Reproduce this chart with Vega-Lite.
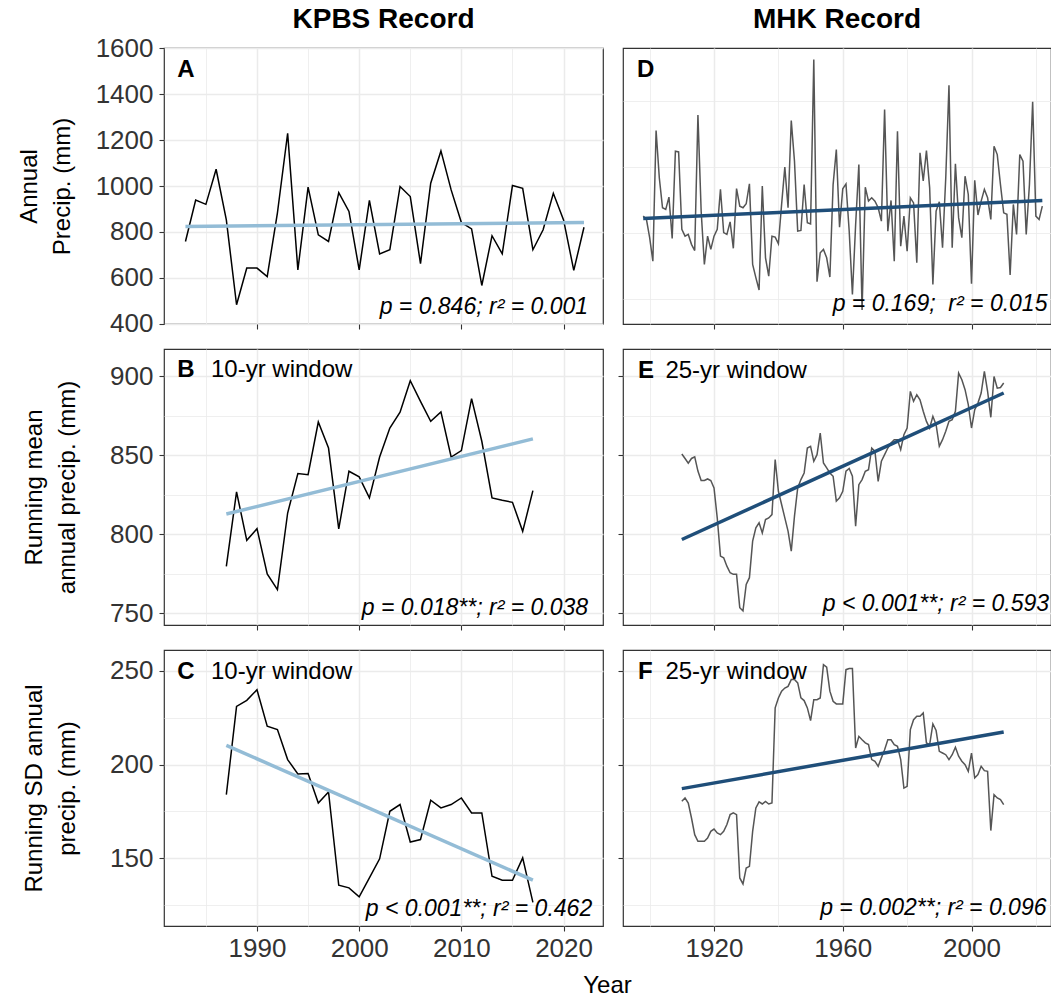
{
  "$schema": "https://vega.github.io/schema/vega-lite/v6.json",
  "padding": {"left": 16, "right": 2, "top": 5, "bottom": 3},
  "background": "white",
  "config": {
    "font": "Liberation Sans",
    "view": {"stroke": "#333333", "strokeWidth": 1.2},
    "axis": {"domain": false, "grid": true, "gridColor": "#ebebeb", "tickColor": "#333333", "tickSize": 5, "tickWidth": 1.1,
      "labelFont": "Liberation Sans", "labelFontSize": 26, "labelColor": "#333333", "labelFlush": false, "labelOverlap": false,
      "titleFont": "Liberation Sans", "titleFontSize": 24, "titleFontWeight": "normal", "titleColor": "#000000", "titleLineHeight": 33},
    "title": {"font": "Liberation Sans", "fontSize": 28, "fontWeight": "bold", "color": "#000000", "anchor": "middle"}
  },
  "datasets": {
    "kpbs_annual": [
      {"year":1983,"value":758},{"year":1984,"value":939},{"year":1985,"value":920},{"year":1986,"value":1073},{"year":1987,"value":852},
      {"year":1988,"value":482},{"year":1989,"value":642},{"year":1990,"value":642},{"year":1991,"value":605},{"year":1992,"value":883},
      {"year":1993,"value":1230},{"year":1994,"value":634},{"year":1995,"value":995},{"year":1996,"value":787},{"year":1997,"value":758},
      {"year":1998,"value":971},{"year":1999,"value":889},{"year":2000,"value":634},{"year":2001,"value":937},{"year":2002,"value":704},
      {"year":2003,"value":722},{"year":2004,"value":998},{"year":2005,"value":954},{"year":2006,"value":661},{"year":2007,"value":1012},
      {"year":2008,"value":1153},{"year":2009,"value":983},{"year":2010,"value":841},{"year":2011,"value":813},{"year":2012,"value":566},
      {"year":2013,"value":783},{"year":2014,"value":704},{"year":2015,"value":1002},{"year":2016,"value":990},{"year":2017,"value":722},
      {"year":2018,"value":809},{"year":2019,"value":968},{"year":2020,"value":852},{"year":2021,"value":632},{"year":2022,"value":820}
    ],
    "kpbs_annual_trend": [{"year":1983,"value":823},{"year":2022,"value":841}],
    "kpbs_mean": [
      {"year":1987,"value":779.6},{"year":1988,"value":826.8},{"year":1989,"value":796.1},{"year":1990,"value":803.5},{"year":1991,"value":774.8},
      {"year":1992,"value":764.8},{"year":1993,"value":813.4},{"year":1994,"value":838.4},{"year":1995,"value":837.7},{"year":1996,"value":871.1},
      {"year":1997,"value":854.6},{"year":1998,"value":803.3},{"year":1999,"value":839.9},{"year":2000,"value":836.3},{"year":2001,"value":823.0},
      {"year":2002,"value":848.9},{"year":2003,"value":867.3},{"year":2004,"value":877.3},{"year":2005,"value":897.3},{"year":2006,"value":884.2},
      {"year":2007,"value":871.6},{"year":2008,"value":877.5},{"year":2009,"value":848.9},{"year":2010,"value":853.0},{"year":2011,"value":885.9},
      {"year":2012,"value":858.9},{"year":2013,"value":823.0},{"year":2014,"value":821.5},{"year":2015,"value":820.2},{"year":2016,"value":801.8},
      {"year":2017,"value":827.6}
    ],
    "kpbs_mean_trend": [{"year":1987,"value":812.8},{"year":2017,"value":860.4}],
    "kpbs_sd": [
      {"year":1987,"value":184.0},{"year":1988,"value":231.1},{"year":1989,"value":234.3},{"year":1990,"value":240.0},{"year":1991,"value":220.5},
      {"year":1992,"value":218.7},{"year":1993,"value":202.7},{"year":1994,"value":195.0},{"year":1995,"value":195.2},{"year":1996,"value":179.5},
      {"year":1997,"value":185.4},{"year":1998,"value":135.6},{"year":1999,"value":134.2},{"year":2000,"value":129.4},{"year":2001,"value":139.5},
      {"year":2002,"value":149.7},{"year":2003,"value":175.1},{"year":2004,"value":178.7},{"year":2005,"value":158.7},{"year":2006,"value":160.0},
      {"year":2007,"value":181.0},{"year":2008,"value":176.9},{"year":2009,"value":178.7},{"year":2010,"value":182.2},{"year":2011,"value":174.2},
      {"year":2012,"value":174.2},{"year":2013,"value":140.4},{"year":2014,"value":138.3},{"year":2015,"value":138.3},{"year":2016,"value":150.2},
      {"year":2017,"value":126.5}
    ],
    "kpbs_sd_trend": [{"year":1987,"value":210.3},{"year":2017,"value":138.3}],
    "mhk_annual": [
      {"year":1898,"value":826},{"year":1899,"value":811},{"year":1900,"value":728},{"year":1901,"value":622},{"year":1902,"value":1214},
      {"year":1903,"value":1000},{"year":1904,"value":864},{"year":1905,"value":856},{"year":1906,"value":912},{"year":1907,"value":725},
      {"year":1908,"value":1120},{"year":1909,"value":1117},{"year":1910,"value":766},{"year":1911,"value":735},{"year":1912,"value":743},
      {"year":1913,"value":698},{"year":1914,"value":670},{"year":1915,"value":1284},{"year":1916,"value":849},{"year":1917,"value":607},
      {"year":1918,"value":735},{"year":1919,"value":675},{"year":1920,"value":735},{"year":1921,"value":766},{"year":1922,"value":947},
      {"year":1923,"value":751},{"year":1924,"value":743},{"year":1925,"value":800},{"year":1926,"value":680},{"year":1927,"value":951},
      {"year":1928,"value":871},{"year":1929,"value":864},{"year":1930,"value":882},{"year":1931,"value":972},{"year":1932,"value":607},
      {"year":1933,"value":547},{"year":1934,"value":491},{"year":1935,"value":962},{"year":1936,"value":637},{"year":1937,"value":554},
      {"year":1938,"value":735},{"year":1939,"value":731},{"year":1940,"value":701},{"year":1941,"value":879},{"year":1942,"value":1048},
      {"year":1943,"value":864},{"year":1944,"value":1259},{"year":1945,"value":1075},{"year":1946,"value":758},{"year":1947,"value":761},
      {"year":1948,"value":969},{"year":1949,"value":796},{"year":1950,"value":791},{"year":1951,"value":1536},{"year":1952,"value":529},
      {"year":1953,"value":660},{"year":1954,"value":675},{"year":1955,"value":637},{"year":1956,"value":550},{"year":1957,"value":969},
      {"year":1958,"value":1128},{"year":1959,"value":776},{"year":1960,"value":950},{"year":1961,"value":972},{"year":1962,"value":758},
      {"year":1963,"value":471},{"year":1964,"value":788},{"year":1965,"value":1060},{"year":1966,"value":400},{"year":1967,"value":957},
      {"year":1968,"value":894},{"year":1969,"value":909},{"year":1970,"value":894},{"year":1971,"value":864},{"year":1972,"value":803},
      {"year":1973,"value":1309},{"year":1974,"value":758},{"year":1975,"value":897},{"year":1976,"value":622},{"year":1977,"value":1211},
      {"year":1978,"value":690},{"year":1979,"value":826},{"year":1980,"value":667},{"year":1981,"value":909},{"year":1982,"value":886},
      {"year":1983,"value":615},{"year":1984,"value":1113},{"year":1985,"value":985},{"year":1986,"value":1123},{"year":1987,"value":954},
      {"year":1988,"value":516},{"year":1989,"value":849},{"year":1990,"value":891},{"year":1991,"value":683},{"year":1992,"value":1000},
      {"year":1993,"value":1419},{"year":1994,"value":683},{"year":1995,"value":1063},{"year":1996,"value":818},{"year":1997,"value":728},
      {"year":1998,"value":1007},{"year":1999,"value":924},{"year":2000,"value":519},{"year":2001,"value":988},{"year":2002,"value":831},
      {"year":2003,"value":894},{"year":2004,"value":947},{"year":2005,"value":909},{"year":2006,"value":811},{"year":2007,"value":1143},
      {"year":2008,"value":1105},{"year":2009,"value":969},{"year":2010,"value":841},{"year":2011,"value":834},{"year":2012,"value":559},
      {"year":2013,"value":879},{"year":2014,"value":743},{"year":2015,"value":1105},{"year":2016,"value":1075},{"year":2017,"value":743},
      {"year":2018,"value":969},{"year":2019,"value":1344},{"year":2020,"value":826},{"year":2021,"value":811},{"year":2022,"value":871}
    ],
    "mhk_annual_trend": [{"year":1898,"value":815},{"year":2022,"value":897}],
    "mhk_mean": [
      {"year":1910,"value":850.8},{"year":1911,"value":848},{"year":1912,"value":845},{"year":1913,"value":848},{"year":1914,"value":849},
      {"year":1915,"value":840},{"year":1916,"value":834},{"year":1917,"value":834},{"year":1918,"value":835},{"year":1919,"value":834},
      {"year":1920,"value":829.3},{"year":1921,"value":810.3},{"year":1922,"value":786.1},{"year":1923,"value":785},{"year":1924,"value":779.7},
      {"year":1925,"value":775.5},{"year":1926,"value":774.5},{"year":1927,"value":774.5},{"year":1928,"value":753.4},{"year":1929,"value":751.3},
      {"year":1930,"value":768.1},{"year":1931,"value":772.4},{"year":1932,"value":795.6},{"year":1933,"value":804},{"year":1934,"value":807.2},
      {"year":1935,"value":800.8},{"year":1936,"value":809.3},{"year":1937,"value":810.3},{"year":1938,"value":812.4},{"year":1939,"value":847.3},
      {"year":1940,"value":827.2},{"year":1941,"value":818.8},{"year":1942,"value":810.3},{"year":1943,"value":801.9},{"year":1944,"value":789.2},
      {"year":1945,"value":811.4},{"year":1946,"value":829.3},{"year":1947,"value":834.6},{"year":1948,"value":838.8},{"year":1949,"value":854.6},
      {"year":1950,"value":855.7},{"year":1951,"value":846.2},{"year":1952,"value":850.4},{"year":1953,"value":864.1},{"year":1954,"value":845.1},
      {"year":1955,"value":842},{"year":1956,"value":838.8},{"year":1957,"value":836.7},{"year":1958,"value":820.9},{"year":1959,"value":823},
      {"year":1960,"value":827.2},{"year":1961,"value":839.9},{"year":1962,"value":841.6},{"year":1963,"value":836.7},{"year":1964,"value":805.1},
      {"year":1965,"value":831.4},{"year":1966,"value":834.6},{"year":1967,"value":839.9},{"year":1968,"value":840.9},{"year":1969,"value":854.6},
      {"year":1970,"value":852.5},{"year":1971,"value":833.5},{"year":1972,"value":846.2},{"year":1973,"value":850.4},{"year":1974,"value":854.6},
      {"year":1975,"value":857.8},{"year":1976,"value":859.9},{"year":1977,"value":859.9},{"year":1978,"value":853.6},{"year":1979,"value":863.1},
      {"year":1980,"value":867.3},{"year":1981,"value":890.5},{"year":1982,"value":884.2},{"year":1983,"value":888.4},{"year":1984,"value":885.2},
      {"year":1985,"value":877.9},{"year":1986,"value":871.5},{"year":1987,"value":867.3},{"year":1988,"value":874.7},{"year":1989,"value":869.4},
      {"year":1990,"value":855.7},{"year":1991,"value":859.9},{"year":1992,"value":865.2},{"year":1993,"value":871.5},{"year":1994,"value":872.6},
      {"year":1995,"value":877.9},{"year":1996,"value":902.1},{"year":1997,"value":897.9},{"year":1998,"value":891.6},{"year":1999,"value":882.1},
      {"year":2000,"value":867.3},{"year":2001,"value":878.9},{"year":2002,"value":883.1},{"year":2003,"value":889.5},{"year":2004,"value":903.2},
      {"year":2005,"value":890.5},{"year":2006,"value":874.1},{"year":2007,"value":900},{"year":2008,"value":892.6},{"year":2009,"value":893},
      {"year":2010,"value":895.8}
    ],
    "mhk_mean_trend": [{"year":1910,"value":796.6},{"year":2010,"value":889.5}],
    "mhk_sd": [
      {"year":1910,"value":180.4},{"year":1911,"value":182.2},{"year":1912,"value":179.5},{"year":1913,"value":171.5},{"year":1914,"value":162.6},
      {"year":1915,"value":159.1},{"year":1916,"value":159.1},{"year":1917,"value":159.1},{"year":1918,"value":160.8},{"year":1919,"value":164.4},
      {"year":1920,"value":165.6},{"year":1921,"value":163.5},{"year":1922,"value":162.6},{"year":1923,"value":164.4},{"year":1924,"value":168},
      {"year":1925,"value":173.3},{"year":1926,"value":174.2},{"year":1927,"value":173.3},{"year":1928,"value":139.5},{"year":1929,"value":136.3},
      {"year":1930,"value":144.8},{"year":1931,"value":145.7},{"year":1932,"value":164.4},{"year":1933,"value":176.9},{"year":1934,"value":180.1},
      {"year":1935,"value":179},{"year":1936,"value":180.4},{"year":1937,"value":179},{"year":1938,"value":179.5},{"year":1939,"value":230.3},
      {"year":1940,"value":235.6},{"year":1941,"value":239.2},{"year":1942,"value":240.9},{"year":1943,"value":241.8},{"year":1944,"value":245.4},
      {"year":1945,"value":245.4},{"year":1946,"value":243.6},{"year":1947,"value":235.6},{"year":1948,"value":234.2},{"year":1949,"value":230.3},
      {"year":1950,"value":223.5},{"year":1951,"value":234.7},{"year":1952,"value":234.7},{"year":1953,"value":235.6},{"year":1954,"value":253.4},
      {"year":1955,"value":252},{"year":1956,"value":239.2},{"year":1957,"value":233.8},{"year":1958,"value":232.4},{"year":1959,"value":232.4},
      {"year":1960,"value":232.4},{"year":1961,"value":250.7},{"year":1962,"value":251.3},{"year":1963,"value":251.3},{"year":1964,"value":208.9},
      {"year":1965,"value":215.1},{"year":1966,"value":213.3},{"year":1967,"value":211.6},{"year":1968,"value":210.7},{"year":1969,"value":202.7},
      {"year":1970,"value":201.8},{"year":1971,"value":199.1},{"year":1972,"value":203.6},{"year":1973,"value":208},{"year":1974,"value":213.3},
      {"year":1975,"value":213.3},{"year":1976,"value":210.7},{"year":1977,"value":209.8},{"year":1978,"value":202.7},{"year":1979,"value":187.5},
      {"year":1980,"value":188.4},{"year":1981,"value":218.7},{"year":1982,"value":224},{"year":1983,"value":225.8},{"year":1984,"value":225.8},
      {"year":1985,"value":227.6},{"year":1986,"value":211.6},{"year":1987,"value":210.7},{"year":1988,"value":221.7},{"year":1989,"value":218.2},
      {"year":1990,"value":207.1},{"year":1991,"value":206.2},{"year":1992,"value":205.3},{"year":1993,"value":202.7},{"year":1994,"value":205.3},
      {"year":1995,"value":209.3},{"year":1996,"value":204.5},{"year":1997,"value":201.8},{"year":1998,"value":200},{"year":1999,"value":196.4},
      {"year":2000,"value":206.2},{"year":2001,"value":192.9},{"year":2002,"value":194.7},{"year":2003,"value":199.1},{"year":2004,"value":196.8},
      {"year":2005,"value":196.4},{"year":2006,"value":164.8},{"year":2007,"value":184},{"year":2008,"value":182.2},{"year":2009,"value":181.3},
      {"year":2010,"value":178.6}
    ],
    "mhk_sd_trend": [{"year":1910,"value":187.2},{"year":2010,"value":217.4}]
  },
  "columns": 2,
  "spacing": {"row": 25, "column": 20},
  "bounds": "flush",
  "resolve": {"scale": {"x": "independent", "y": "independent"}},
  "concat": [
    {
      "width": 439, "height": 276,
      "title": {"text": "KPBS Record", "offset": 1},
      "layer": [
        {"data": {"name": "kpbs_annual"}, "mark": {"type": "line", "color": "#000000", "strokeWidth": 1.5},
         "encoding": {
           "x": {"field": "year", "type": "quantitative", "scale": {"domain": [1980.9, 2023.86], "nice": false, "zero": false},
                 "axis": {"title": null, "values": [1985,1990,1995,2000,2005,2010,2015,2020], "labels": false,
                          "tickOpacity": {"condition": {"test": "datum.value % 10 !== 0", "value": 0}, "value": 1},
                          "gridWidth": {"condition": {"test": "datum.value % 10 !== 0", "value": 0.8}, "value": 1.5}}},
           "y": {"field": "value", "type": "quantitative", "scale": {"domain": [398, 1602], "nice": false, "zero": false},
                 "axis": {"title": ["Annual", "Precip. (mm)"], "titlePadding": 21, "labelPadding": 6,
                          "values": [400,500,600,700,800,900,1000,1100,1200,1300,1400,1500,1600],
                          "labelExpr": "datum.value % 200 === 0 ? datum.label : ''", "format": "d",
                          "tickOpacity": {"condition": {"test": "datum.value % 200 !== 0", "value": 0}, "value": 1},
                          "gridWidth": {"condition": {"test": "datum.value % 200 !== 0", "value": 0.8}, "value": 1.5}}}
         }},
        {"data": {"name": "kpbs_annual_trend"}, "mark": {"type": "line", "color": "#93bcd6", "strokeWidth": 3.5},
         "encoding": {"x": {"field": "year", "type": "quantitative"}, "y": {"field": "value", "type": "quantitative"}}},
        {"data": {"values": [{}]}, "mark": {"type": "text", "text": "A", "fontWeight": "bold", "fontSize": 24, "align": "left", "baseline": "alphabetic", "color": "#000000"},
         "encoding": {"x": {"datum": 1982.2}, "y": {"datum": 1475}}},
        {"data": {"values": [{}]}, "mark": {"type": "text", "text": "p = 0.846; r² = 0.001", "fontStyle": "italic", "fontSize": 23, "align": "right", "baseline": "alphabetic", "color": "#000000"},
         "encoding": {"x": {"datum": 2022.4}, "y": {"datum": 443}}}
      ]
    },
    {
      "width": 428, "height": 276,
      "title": {"text": "MHK Record", "offset": 14},
      "layer": [
        {"data": {"name": "mhk_annual"}, "mark": {"type": "line", "color": "#555555", "strokeWidth": 1.5},
         "encoding": {
           "x": {"field": "year", "type": "quantitative", "scale": {"domain": [1891.72, 2024.7], "nice": false, "zero": false},
                 "axis": {"title": null, "values": [1900,1920,1940,1960,1980,2000,2020], "labels": false,
                          "tickOpacity": {"condition": {"test": "(datum.value - 1920) % 40 !== 0", "value": 0}, "value": 1},
                          "gridWidth": {"condition": {"test": "(datum.value - 1920) % 40 !== 0", "value": 0.8}, "value": 1.5}}},
           "y": {"field": "value", "type": "quantitative", "scale": {"domain": [337, 1588], "nice": false, "zero": false},
                 "axis": {"title": null, "labels": false, "values": [450,600,750,900,1050,1200,1350,1500],
                          "tickOpacity": {"condition": {"test": "datum.value % 300 !== 0", "value": 0}, "value": 1},
                          "gridWidth": {"condition": {"test": "datum.value % 300 !== 0", "value": 0.8}, "value": 1.5}}}
         }},
        {"data": {"name": "mhk_annual_trend"}, "mark": {"type": "line", "color": "#1f4e79", "strokeWidth": 3.5},
         "encoding": {"x": {"field": "year", "type": "quantitative"}, "y": {"field": "value", "type": "quantitative"}}},
        {"data": {"values": [{}]}, "mark": {"type": "text", "text": "D", "fontWeight": "bold", "fontSize": 24, "align": "left", "baseline": "alphabetic", "color": "#000000"},
         "encoding": {"x": {"datum": 1896.1}, "y": {"datum": 1458}}},
        {"data": {"values": [{}]}, "mark": {"type": "text", "text": "p = 0.169;\u00a0 r² = 0.015", "fontStyle": "italic", "fontSize": 23, "align": "right", "baseline": "alphabetic", "color": "#000000"},
         "encoding": {"x": {"datum": 2023.6}, "y": {"datum": 394}}}
      ]
    },
    {
      "width": 439, "height": 276,
      "layer": [
        {"data": {"name": "kpbs_mean"}, "mark": {"type": "line", "color": "#000000", "strokeWidth": 1.5},
         "encoding": {
           "x": {"field": "year", "type": "quantitative", "scale": {"domain": [1980.9, 2023.86], "nice": false, "zero": false},
                 "axis": {"title": null, "values": [1985,1990,1995,2000,2005,2010,2015,2020], "labels": false,
                          "tickOpacity": {"condition": {"test": "datum.value % 10 !== 0", "value": 0}, "value": 1},
                          "gridWidth": {"condition": {"test": "datum.value % 10 !== 0", "value": 0.8}, "value": 1.5}}},
           "y": {"field": "value", "type": "quantitative", "scale": {"domain": [742.4, 917.4], "nice": false, "zero": false},
                 "axis": {"title": ["Running mean", "annual precip. (mm)"], "titlePadding": 30, "labelPadding": 6,
                          "values": [750,775,800,825,850,875,900],
                          "labelExpr": "datum.value % 50 === 0 ? datum.label : ''", "format": "d",
                          "tickOpacity": {"condition": {"test": "datum.value % 50 !== 0", "value": 0}, "value": 1},
                          "gridWidth": {"condition": {"test": "datum.value % 50 !== 0", "value": 0.8}, "value": 1.5}}}
         }},
        {"data": {"name": "kpbs_mean_trend"}, "mark": {"type": "line", "color": "#93bcd6", "strokeWidth": 3.5},
         "encoding": {"x": {"field": "year", "type": "quantitative"}, "y": {"field": "value", "type": "quantitative"}}},
        {"data": {"values": [{}]}, "mark": {"type": "text", "text": "B", "fontWeight": "bold", "fontSize": 24, "align": "left", "baseline": "alphabetic", "color": "#000000"},
         "encoding": {"x": {"datum": 1982.2}, "y": {"datum": 899.6}}},
        {"data": {"values": [{}]}, "mark": {"type": "text", "text": "10-yr window", "fontSize": 24, "align": "left", "baseline": "alphabetic", "color": "#000000"},
         "encoding": {"x": {"datum": 1985.5}, "y": {"datum": 899.6}}},
        {"data": {"values": [{}]}, "mark": {"type": "text", "text": "p = 0.018**; r² = 0.038", "fontStyle": "italic", "fontSize": 23, "align": "right", "baseline": "alphabetic", "color": "#000000"},
         "encoding": {"x": {"datum": 2022.4}, "y": {"datum": 748.9}}}
      ]
    },
    {
      "width": 428, "height": 276,
      "layer": [
        {"data": {"name": "mhk_mean"}, "mark": {"type": "line", "color": "#555555", "strokeWidth": 1.5},
         "encoding": {
           "x": {"field": "year", "type": "quantitative", "scale": {"domain": [1891.72, 2024.7], "nice": false, "zero": false},
                 "axis": {"title": null, "values": [1900,1920,1940,1960,1980,2000,2020], "labels": false,
                          "tickOpacity": {"condition": {"test": "(datum.value - 1920) % 40 !== 0", "value": 0}, "value": 1},
                          "gridWidth": {"condition": {"test": "(datum.value - 1920) % 40 !== 0", "value": 0.8}, "value": 1.5}}},
           "y": {"field": "value", "type": "quantitative", "scale": {"domain": [742.4, 917.4], "nice": false, "zero": false},
                 "axis": {"title": null, "labels": false, "values": [750,775,800,825,850,875,900],
                          "tickOpacity": {"condition": {"test": "datum.value % 50 !== 0", "value": 0}, "value": 1},
                          "gridWidth": {"condition": {"test": "datum.value % 50 !== 0", "value": 0.8}, "value": 1.5}}}
         }},
        {"data": {"name": "mhk_mean_trend"}, "mark": {"type": "line", "color": "#1f4e79", "strokeWidth": 3.5},
         "encoding": {"x": {"field": "year", "type": "quantitative"}, "y": {"field": "value", "type": "quantitative"}}},
        {"data": {"values": [{}]}, "mark": {"type": "text", "text": "E", "fontWeight": "bold", "fontSize": 24, "align": "left", "baseline": "alphabetic", "color": "#000000"},
         "encoding": {"x": {"datum": 1896.4}, "y": {"datum": 899}}},
        {"data": {"values": [{}]}, "mark": {"type": "text", "text": "25-yr window", "fontSize": 24, "align": "left", "baseline": "alphabetic", "color": "#000000"},
         "encoding": {"x": {"datum": 1904.9}, "y": {"datum": 899}}},
        {"data": {"values": [{}]}, "mark": {"type": "text", "text": "p < 0.001**; r² = 0.593", "fontStyle": "italic", "fontSize": 23, "align": "right", "baseline": "alphabetic", "color": "#000000"},
         "encoding": {"x": {"datum": 2024.1}, "y": {"datum": 751}}}
      ]
    },
    {
      "width": 439, "height": 276,
      "layer": [
        {"data": {"name": "kpbs_sd"}, "mark": {"type": "line", "color": "#000000", "strokeWidth": 1.5},
         "encoding": {
           "x": {"field": "year", "type": "quantitative", "scale": {"domain": [1980.9, 2023.86], "nice": false, "zero": false},
                 "axis": {"title": "Year", "titleX": 443, "titlePadding": 12, "labelPadding": 4, "values": [1985,1990,1995,2000,2005,2010,2015,2020],
                          "labelExpr": "datum.value % 10 === 0 ? datum.label : ''", "format": "d",
                          "tickOpacity": {"condition": {"test": "datum.value % 10 !== 0", "value": 0}, "value": 1},
                          "gridWidth": {"condition": {"test": "datum.value % 10 !== 0", "value": 0.8}, "value": 1.5}}},
           "y": {"field": "value", "type": "quantitative", "scale": {"domain": [113.85, 261.2], "nice": false, "zero": false},
                 "axis": {"title": ["Running SD annual", "precip. (mm)"], "titlePadding": 30, "labelPadding": 6,
                          "values": [125,150,175,200,225,250],
                          "labelExpr": "datum.value % 50 === 0 ? datum.label : ''", "format": "d",
                          "tickOpacity": {"condition": {"test": "datum.value % 50 !== 0", "value": 0}, "value": 1},
                          "gridWidth": {"condition": {"test": "datum.value % 50 !== 0", "value": 0.8}, "value": 1.5}}}
         }},
        {"data": {"name": "kpbs_sd_trend"}, "mark": {"type": "line", "color": "#93bcd6", "strokeWidth": 3.5},
         "encoding": {"x": {"field": "year", "type": "quantitative"}, "y": {"field": "value", "type": "quantitative"}}},
        {"data": {"values": [{}]}, "mark": {"type": "text", "text": "C", "fontWeight": "bold", "fontSize": 24, "align": "left", "baseline": "alphabetic", "color": "#000000"},
         "encoding": {"x": {"datum": 1982.2}, "y": {"datum": 245.9}}},
        {"data": {"values": [{}]}, "mark": {"type": "text", "text": "10-yr window", "fontSize": 24, "align": "left", "baseline": "alphabetic", "color": "#000000"},
         "encoding": {"x": {"datum": 1985.5}, "y": {"datum": 245.9}}},
        {"data": {"values": [{}]}, "mark": {"type": "text", "text": "p < 0.001**; r² = 0.462", "fontStyle": "italic", "fontSize": 23, "align": "right", "baseline": "alphabetic", "color": "#000000"},
         "encoding": {"x": {"datum": 2022.8}, "y": {"datum": 119.2}}}
      ]
    },
    {
      "width": 428, "height": 276,
      "layer": [
        {"data": {"name": "mhk_sd"}, "mark": {"type": "line", "color": "#555555", "strokeWidth": 1.5},
         "encoding": {
           "x": {"field": "year", "type": "quantitative", "scale": {"domain": [1891.72, 2024.7], "nice": false, "zero": false},
                 "axis": {"title": null, "labelPadding": 4, "values": [1900,1920,1940,1960,1980,2000,2020],
                          "labelExpr": "(datum.value - 1920) % 40 === 0 ? datum.label : ''", "format": "d",
                          "tickOpacity": {"condition": {"test": "(datum.value - 1920) % 40 !== 0", "value": 0}, "value": 1},
                          "gridWidth": {"condition": {"test": "(datum.value - 1920) % 40 !== 0", "value": 0.8}, "value": 1.5}}},
           "y": {"field": "value", "type": "quantitative", "scale": {"domain": [113.85, 261.2], "nice": false, "zero": false},
                 "axis": {"title": null, "labels": false, "values": [125,150,175,200,225,250],
                          "tickOpacity": {"condition": {"test": "datum.value % 50 !== 0", "value": 0}, "value": 1},
                          "gridWidth": {"condition": {"test": "datum.value % 50 !== 0", "value": 0.8}, "value": 1.5}}}
         }},
        {"data": {"name": "mhk_sd_trend"}, "mark": {"type": "line", "color": "#1f4e79", "strokeWidth": 3.5},
         "encoding": {"x": {"field": "year", "type": "quantitative"}, "y": {"field": "value", "type": "quantitative"}}},
        {"data": {"values": [{}]}, "mark": {"type": "text", "text": "F", "fontWeight": "bold", "fontSize": 24, "align": "left", "baseline": "alphabetic", "color": "#000000"},
         "encoding": {"x": {"datum": 1896.4}, "y": {"datum": 245.9}}},
        {"data": {"values": [{}]}, "mark": {"type": "text", "text": "25-yr window", "fontSize": 24, "align": "left", "baseline": "alphabetic", "color": "#000000"},
         "encoding": {"x": {"datum": 1904.9}, "y": {"datum": 245.9}}},
        {"data": {"values": [{}]}, "mark": {"type": "text", "text": "p = 0.002**; r² = 0.096", "fontStyle": "italic", "fontSize": 23, "align": "right", "baseline": "alphabetic", "color": "#000000"},
         "encoding": {"x": {"datum": 2023.3}, "y": {"datum": 119.7}}}
      ]
    }
  ]
}
